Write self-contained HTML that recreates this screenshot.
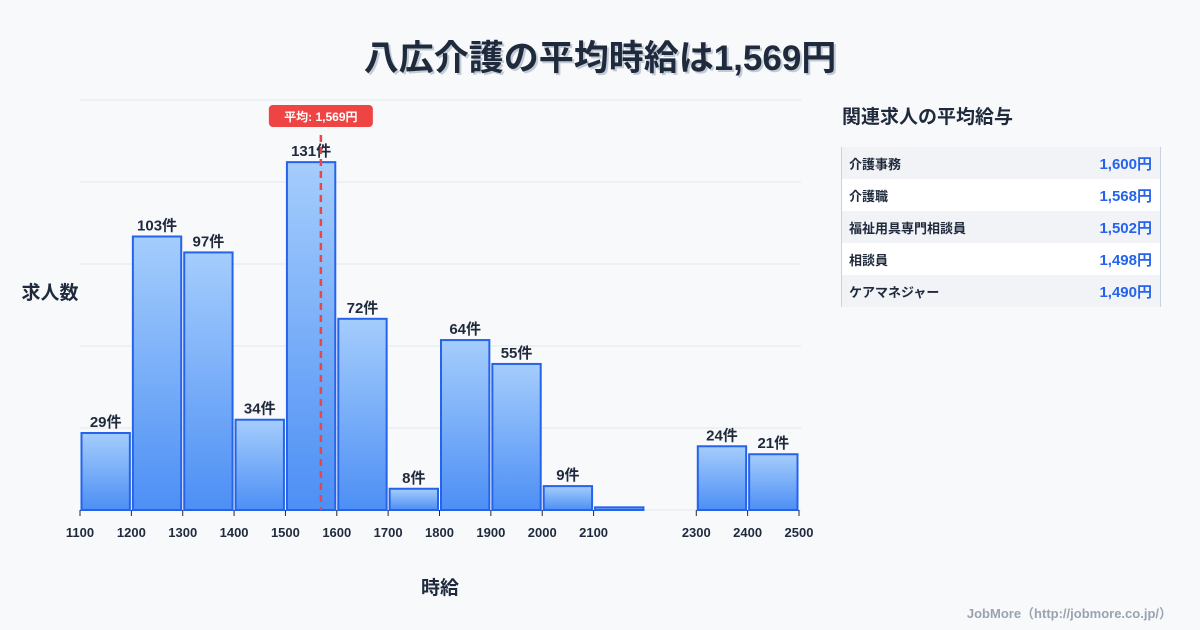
<!DOCTYPE html>
<html><head><meta charset="utf-8"><style>
body{margin:0;width:1200px;height:630px;background:#f8f9fb;font-family:"Liberation Sans","Noto Sans CJK JP",sans-serif;overflow:hidden;position:relative}
#title{position:absolute;top:30px;left:0;width:1200px;text-align:center;font-size:35px;font-weight:bold;color:#1f2a3c;text-shadow:2px 2px 0 #c3cbd6}
#side-title{position:absolute;left:842px;top:102px;font-size:19px;font-weight:bold;color:#1f2a3c}
#tbl{position:absolute;left:841px;top:147px;width:318px;border-left:1px solid #c8d2e0;border-right:1px solid #c8d2e0}
.row{height:32px;display:flex;justify-content:space-between;align-items:center;padding:0 8px 0 7px;font-size:13px;font-weight:bold;color:#1f2a3c}
.row:nth-child(odd){background:#f1f3f7}.row:nth-child(even){background:#fff}
.row span:last-child{color:#2563eb;font-size:15px}
#foot{position:absolute;right:28px;top:603px;font-size:13px;color:#9aa3b0;font-weight:bold}
</style></head><body>
<div id="title">八広介護の平均時給は1,569円</div>
<svg id="chart" width="830" height="630" style="position:absolute;left:0;top:0"></svg>
<div id="side-title">関連求人の平均給与</div>
<div id="tbl">
<div class="row"><span>介護事務</span><span>1,600円</span></div>
<div class="row"><span>介護職</span><span>1,568円</span></div>
<div class="row"><span>福祉用具専門相談員</span><span>1,502円</span></div>
<div class="row"><span>相談員</span><span>1,498円</span></div>
<div class="row"><span>ケアマネジャー</span><span>1,490円</span></div>
</div>
<div id="foot">JobMore（http://jobmore.co.jp/）</div>
<script>
const binStarts=[1100,1200,1300,1400,1500,1600,1700,1800,1900,2000,2100,2200,2300,2400];
const counts=[29,103,97,34,131,72,8,64,55,9,1,0,24,21];
const tickLabels=[1100,1200,1300,1400,1500,1600,1700,1800,1900,2000,2100,2300,2400,2500];
const avgValue=[1569];
const NS="http://www.w3.org/2000/svg",svg=document.getElementById('chart');
const x0=80,x1=799,base=510,top_=100,yMax=154.4;
const X=v=>x0+(v-1100)*(x1-x0)/1400;
const Y=v=>base-v*(base-top_)/yMax;
function mk(t,a){const e=document.createElementNS(NS,t);for(const k in a)e.setAttribute(k,a[k]);svg.appendChild(e);return e;}
const defs=mk('defs',{});
defs.innerHTML='<linearGradient id="g" x1="0" y1="0" x2="0" y2="1"><stop offset="0" stop-color="#a5cdfc"/><stop offset="1" stop-color="#4d8ff5"/></linearGradient>';
for(let i=0;i<=5;i++){const y=base-i*(base-top_)/5;const l=mk('line',{x1:x0,x2:x1+2,y1:y,y2:y,stroke:'#e3e7ee','stroke-width':1});

}
binStarts.forEach((b,i)=>{const c=counts[i];if(!c)return;
const xa=X(b)+1.5,xb=X(b+100)-1.5,y=Y(c);
const r=mk('rect',{x:xa,y:y,width:xb-xa,height:base-y,fill:'url(#g)',stroke:'#2563eb','stroke-width':2});


if(c>=5){const t=mk('text',{x:(xa+xb)/2,y:y-6,'text-anchor':'middle','font-size':15,'font-weight':'bold',fill:'#1f2a3c'});t.textContent=c+'件';

}});
tickLabels.forEach(v=>{const x=X(v);mk('line',{x1:x,x2:x,y1:base,y2:base+6,stroke:'#1f2a3c','stroke-width':1});
const t=mk('text',{x:x,y:537,'text-anchor':'middle','font-size':13,'font-weight':'bold',fill:'#1f2a3c'});t.textContent=v;

});
const ax=X(avgValue[0]);
const al=mk('line',{x1:ax,x2:ax,y1:135,y2:base,stroke:'#ef4444','stroke-width':2.5,'stroke-dasharray':'7,5'});


const ab=mk('rect',{x:ax-52,y:105,width:104,height:22,rx:4,fill:'#ef4444'});


const at=mk('text',{x:ax,y:121,'text-anchor':'middle','font-size':12,'font-weight':'bold',fill:'#fff'});at.textContent='平均: 1,569円';
const yt=mk('text',{x:50,y:299,'text-anchor':'middle','font-size':19,'font-weight':'bold',fill:'#1f2a3c'});yt.textContent='求人数';


const xt=mk('text',{x:440,y:594,'text-anchor':'middle','font-size':19,'font-weight':'bold',fill:'#1f2a3c'});xt.textContent='時給';


</script>
</body></html>
